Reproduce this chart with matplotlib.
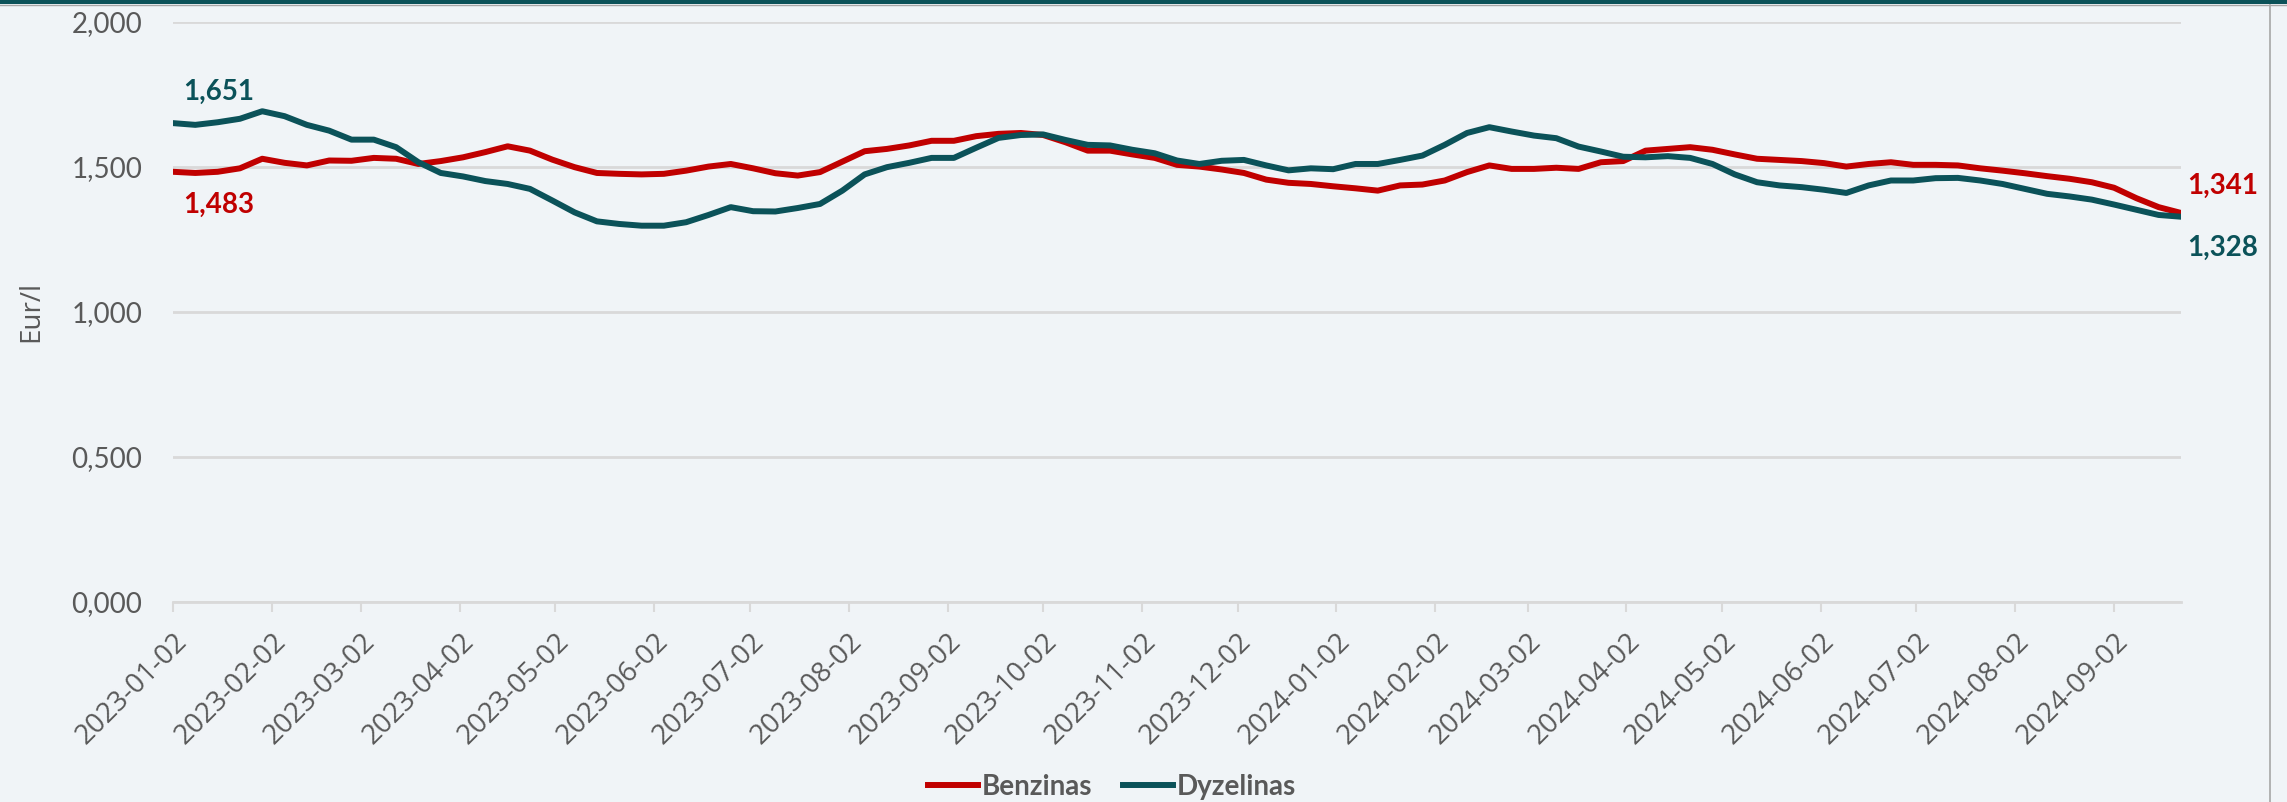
import matplotlib
matplotlib.use("Agg")
import matplotlib.pyplot as plt
import matplotlib.dates as mdates
from matplotlib.lines import Line2D
from matplotlib.patches import Rectangle
import pandas as pd

# ---- data ----
start_date = "2023-01-02"
n_weeks = 91
benzinas = [
    1.483, 1.479, 1.483, 1.495, 1.528, 1.514, 1.505, 1.522, 1.521, 1.531,
    1.528, 1.510, 1.520, 1.533, 1.551, 1.571, 1.556, 1.525, 1.499, 1.479,
    1.476, 1.474, 1.476, 1.487, 1.501, 1.510, 1.495, 1.478, 1.470, 1.482,
    1.518, 1.554, 1.562, 1.574, 1.590, 1.590, 1.606, 1.614, 1.617, 1.610,
    1.585, 1.556, 1.556, 1.543, 1.531, 1.507, 1.501, 1.491, 1.479, 1.456,
    1.445, 1.441, 1.433, 1.426, 1.418, 1.436, 1.439, 1.453, 1.482, 1.505,
    1.493, 1.493, 1.497, 1.493, 1.516, 1.520, 1.556, 1.562, 1.568, 1.559,
    1.543, 1.528, 1.524, 1.520, 1.513, 1.501, 1.510, 1.516, 1.507, 1.507,
    1.505, 1.495, 1.487, 1.478, 1.468, 1.459, 1.447, 1.428, 1.392, 1.361,
    1.341,
]
dyzelinas = [
    1.651, 1.645, 1.654, 1.666, 1.692, 1.675, 1.645, 1.625, 1.594, 1.594,
    1.568, 1.516, 1.479, 1.467, 1.451, 1.441, 1.424, 1.384, 1.343, 1.312,
    1.303, 1.297, 1.297, 1.309, 1.334, 1.361, 1.347, 1.346, 1.358, 1.372,
    1.418, 1.474, 1.499, 1.514, 1.531, 1.531, 1.566, 1.600, 1.610, 1.612,
    1.593, 1.576, 1.574, 1.559, 1.547, 1.522, 1.510, 1.521, 1.524, 1.505,
    1.488, 1.495, 1.492, 1.510, 1.510, 1.524, 1.539, 1.576, 1.617, 1.637,
    1.622, 1.608, 1.599, 1.570, 1.553, 1.535, 1.533, 1.537, 1.531, 1.510,
    1.474, 1.447, 1.436, 1.430, 1.421, 1.410, 1.436, 1.453, 1.453, 1.461,
    1.462, 1.453, 1.441, 1.424, 1.407, 1.398, 1.387, 1.370, 1.352, 1.334,
    1.328,
]
series_names = ["Benzinas", "Dyzelinas"]
y_ticks = [0.0, 0.5, 1.0, 1.5, 2.0]
y_label = "Eur/l"

# ---- style ----
RED = "#C00000"
TEAL = "#0B5259"
GRAY_TXT = "#595959"
GRID = "#D9D9D9"
BG = "#F0F4F7"

dates = pd.date_range(start_date, periods=n_weeks, freq="7D")
tick_dates = pd.date_range("2023-01-01", "2024-09-01", freq="MS") + pd.Timedelta(days=1)

fig = plt.figure(figsize=(22.87, 8.02), dpi=100, facecolor=BG)
ax = fig.add_axes([173 / 2287, 1 - 601.5 / 802, (2181 - 173) / 2287, (601.5 - 22) / 802])
ax.set_facecolor(BG)

l1, = ax.plot(dates, benzinas, color=RED, lw=4.3, solid_joinstyle="round", zorder=3, label=series_names[0])
l2, = ax.plot(dates, dyzelinas, color=TEAL, lw=4.3, solid_joinstyle="round", zorder=4, label=series_names[1])

ax.set_xlim(dates[0], dates[-1])
ax.set_ylim(0, 2.0)
ax.set_yticks(y_ticks)
ax.set_yticklabels([f"{v:.3f}".replace(".", ",") for v in y_ticks],
                   fontsize=20, color=GRAY_TXT, family="Lato")
ax.yaxis.grid(True, color=GRID, lw=2)
ax.set_axisbelow(True)
ax.tick_params(axis="y", length=0, pad=22)

ax.set_xticks(tick_dates)
ax.set_xticklabels([d.strftime("%Y-%m-%d") for d in tick_dates], rotation=45,
                   ha="right", va="top", rotation_mode="anchor",
                   fontsize=20, color=GRAY_TXT, family="Open Sans")
ax.tick_params(axis="x", length=7, width=1.5, color=GRID, pad=12)

for s in ["top", "right", "left"]:
    ax.spines[s].set_visible(False)
ax.spines["bottom"].set_color(GRID)
ax.spines["bottom"].set_linewidth(2)

ax.set_ylabel(y_label, fontsize=20, color=GRAY_TXT, family="Open Sans", va="center")
ax.yaxis.set_label_coords(-0.0707, 0.5)

def fmt(v):
    return f"{v:.3f}".replace(".", ",")

lab_kw = dict(textcoords="offset pixels", fontsize=20, fontweight="bold", family="Lato",
              ha="center", va="center", annotation_clip=False)
ax.annotate(fmt(dyzelinas[0]), (dates[0], dyzelinas[0]), xytext=(46, 31), color=TEAL, **lab_kw)
ax.annotate(fmt(benzinas[0]), (dates[0], benzinas[0]), xytext=(46, -33), color=RED, **lab_kw)
ax.annotate(fmt(benzinas[-1]), (dates[-1], benzinas[-1]), xytext=(42, 27), color=RED, **lab_kw)
ax.annotate(fmt(dyzelinas[-1]), (dates[-1], dyzelinas[-1]), xytext=(42, -31), color=TEAL, **lab_kw)

leg = fig.legend(handles=[l1, l2], loc="center", bbox_to_anchor=(1112 / 2287, 1 - 787 / 802),
                 ncol=2, frameon=False, handlelength=1.8, handletextpad=0.15, columnspacing=1.1,
                 prop={"family": "Lato", "weight": "bold", "size": 20})
for t in leg.get_texts():
    t.set_color(GRAY_TXT)

# frame decorations
fig.add_artist(Rectangle((0, 1 - 4 / 802), 1, 4 / 802, transform=fig.transFigure,
                         color=TEAL, lw=0))
fig.add_artist(Line2D([0, 1], [1 - 5 / 802, 1 - 5 / 802], transform=fig.transFigure,
                      color="#A6A6A6", lw=1))
fig.add_artist(Line2D([2270 / 2287, 2270 / 2287], [0, 1 - 5 / 802], transform=fig.transFigure,
                      color="#A6A6A6", lw=1.2))

fig.savefig("out.png", dpi=100, facecolor=BG)
